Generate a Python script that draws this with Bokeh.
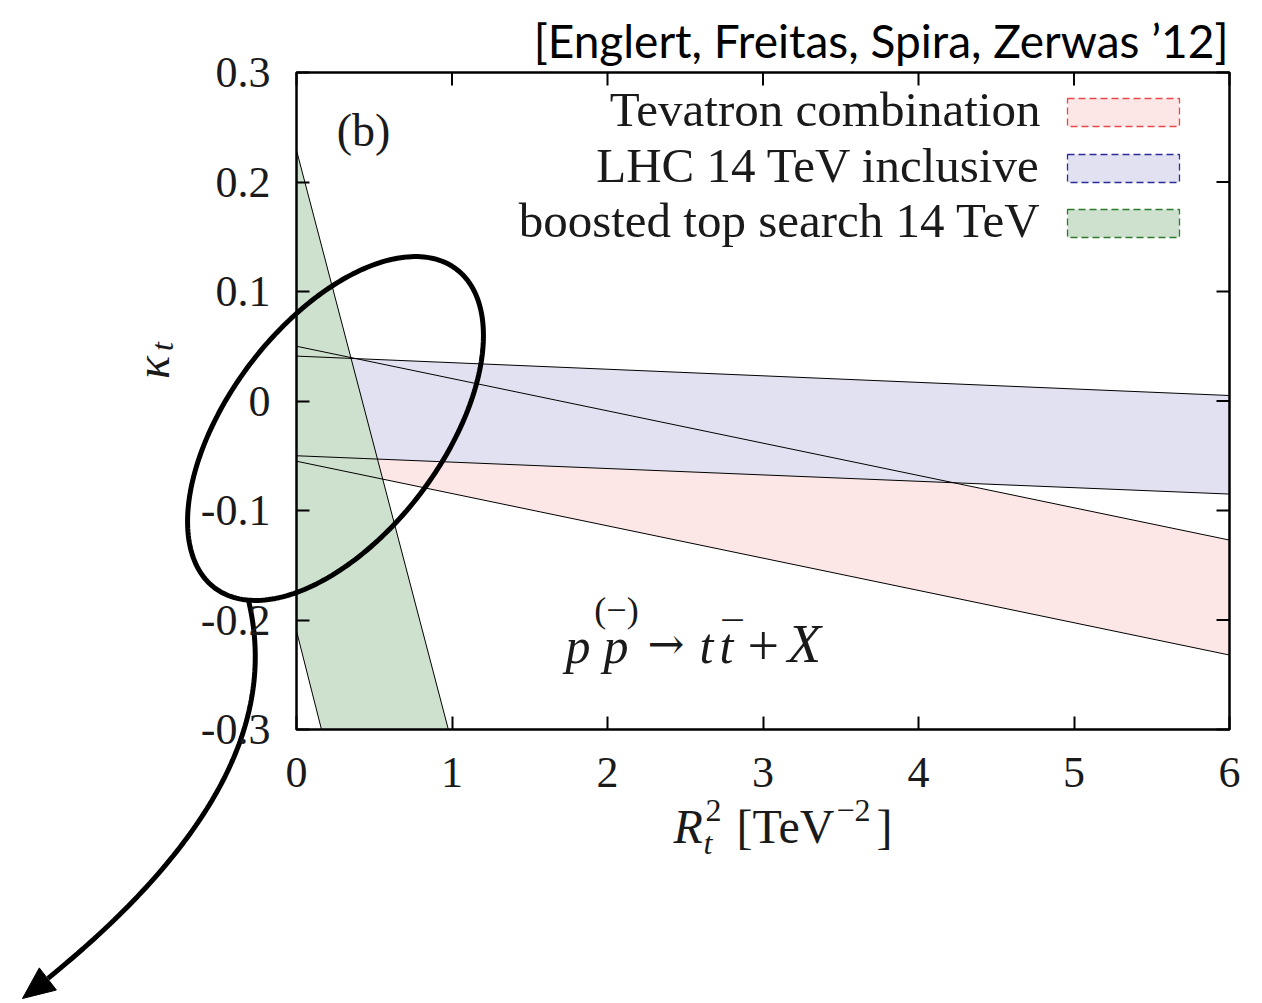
import numpy as np
from bokeh.plotting import figure
from bokeh.models import Range1d, LinearAxis, FixedTicker, Label, BoxAnnotation
from bokeh.embed import file_html
from bokeh.resources import INLINE

# ---- data: band edges in kappa_t at the two ends of the R_t^2 range ----
rt2_ends = [0.0, 6.0]
tevatron_hi = [0.050, -0.127]
tevatron_lo = [-0.055, -0.232]
lhc_hi = [0.041, 0.005]
lhc_lo = [-0.050, -0.085]
# boosted top search band (steep), edges at R_t^2 = 0 and 1.2
boost_rt2 = [0.0, 1.2]
boost_hi = [0.229, -0.421]
boost_lo = [-0.210, -0.882]

x_ticks = [0, 1, 2, 3, 4, 5, 6]
y_ticks = [-0.3, -0.2, -0.1, 0.0, 0.1, 0.2, 0.3]
y_tick_labels = ["-0.3", "-0.2", "-0.1", "0", "0.1", "0.2", "0.3"]

legend_names = ["Tevatron combination", "LHC 14 TeV inclusive", "boosted top search 14 TeV"]
fill_colors = ["#fce6e6", "#e1e1f1", "#cee1ce"]
edge_colors = ["#e8474a", "#2b2b9b", "#2c7b2c"]

# ---- canvas and plot-box geometry (pixels) ----
W, H = 1262, 1003
FL, FR, FT, FB = 296, 1229, 72, 729
XMIN, XMAX, YMIN, YMAX = 0.0, 6.0, -0.3, 0.3


def dx(px):
    return XMIN + (px - FL) * (XMAX - XMIN) / (FR - FL)


def dy(py):
    return YMAX - (py - FT) * (YMAX - YMIN) / (FB - FT)


# The frame spans the whole canvas so the highlight loop and its arrow,
# which run outside the plot box, are drawn too.
p = figure(width=W, height=H, x_range=Range1d(dx(0), dx(W)), y_range=Range1d(dy(H), dy(0)),
           output_backend="svg", toolbar_location=None,
           x_axis_location=None, y_axis_location=None,
           min_border_left=0, min_border_right=0, min_border_top=0, min_border_bottom=0)
p.grid.visible = False
p.outline_line_color = None
p.background_fill_color = "white"
p.border_fill_color = "white"

SERIF = "Liberation Serif"
TXT = "#1a1a1a"
TICK_LEN = 13


def style_axis(ax):
    ax.axis_line_color = None
    ax.major_tick_in = TICK_LEN
    ax.major_tick_out = 0
    ax.major_tick_line_width = 2
    ax.major_tick_line_color = "black"
    ax.minor_tick_line_color = None
    ax.major_label_text_font = SERIF
    ax.major_label_text_font_size = "44px"
    ax.major_label_text_color = TXT


xb = LinearAxis(ticker=FixedTicker(ticks=x_ticks), fixed_location=YMIN)
style_axis(xb)
xb.major_label_standoff = 28
p.add_layout(xb, "below")

yl = LinearAxis(ticker=FixedTicker(ticks=y_ticks), fixed_location=XMIN)
yl.major_label_overrides = {t: s for t, s in zip(y_ticks, y_tick_labels)}
style_axis(yl)
yl.major_label_standoff = 26
p.add_layout(yl, "left")

# ---- bands: Tevatron, then LHC over it, then boosted top search on top ----
p.varea(x=rt2_ends, y1=tevatron_lo, y2=tevatron_hi, fill_color=fill_colors[0])
p.varea(x=rt2_ends, y1=lhc_lo, y2=lhc_hi, fill_color=fill_colors[1])


def hit_floor(xs, ys):
    """R_t^2 at which a straight edge reaches the bottom of the plot box."""
    return xs[0] + (YMIN - ys[0]) * (xs[1] - xs[0]) / (ys[1] - ys[0])


r_hi = hit_floor(boost_rt2, boost_hi)
r_lo = hit_floor(boost_rt2, boost_lo)
p.patch(x=[boost_rt2[0], r_hi, r_lo, boost_rt2[0]],
        y=[boost_hi[0], YMIN, YMIN, boost_lo[0]],
        fill_color=fill_colors[2], line_color=None)

for xs, ys in [(rt2_ends, tevatron_hi), (rt2_ends, tevatron_lo),
               (rt2_ends, lhc_hi), (rt2_ends, lhc_lo)]:
    p.line(x=xs, y=ys, line_color="black", line_width=1)
p.line(x=[boost_rt2[0], r_hi], y=[boost_hi[0], YMIN], line_color="black", line_width=1)
p.line(x=[boost_rt2[0], r_lo], y=[boost_lo[0], YMIN], line_color="black", line_width=1)

# ---- plot box and mirrored ticks on top / right ----
p.quad(left=[XMIN], right=[XMAX], bottom=[YMIN], top=[YMAX],
       fill_alpha=0, line_color="black", line_width=2.5)
tdx = TICK_LEN * (XMAX - XMIN) / (FR - FL)
tdy = TICK_LEN * (YMAX - YMIN) / (FB - FT)
p.segment(x0=x_ticks, y0=[YMAX] * len(x_ticks), x1=x_ticks, y1=[YMAX - tdy] * len(x_ticks),
          line_color="black", line_width=2)
p.segment(x0=[XMAX] * len(y_ticks), y0=y_ticks, x1=[XMAX - tdx] * len(y_ticks), y1=y_ticks,
          line_color="black", line_width=2)


def label(px, py, text, size, align="left", font=SERIF, style="normal", angle=0.0, color=TXT):
    p.add_layout(Label(x=dx(px), y=dy(py), text=text, text_font=font,
                       text_font_size=f"{size}px", text_align=align,
                       text_baseline="middle", text_font_style=style,
                       text_color=color, angle=angle))


# ---- legend ----
legend_rows_y = [112, 168, 223]
for name, yc, fc, ec in zip(legend_names, legend_rows_y, fill_colors, edge_colors):
    label(1040, yc - 3, name, 49, align="right")
    p.add_layout(BoxAnnotation(left=dx(1067), right=dx(1179), top=dy(yc - 14), bottom=dy(yc + 14),
                               fill_color=fc, fill_alpha=1.0, line_color=ec, line_alpha=1.0,
                               line_width=1.3, line_dash="7 4"))

# ---- panel tag and process ----
label(363, 130, "(b)", 46, align="center")

label(565, 645, "p", 50, style="italic")
label(603, 645, "p", 50, style="italic")
label(616, 609, "(\u2212)", 36, align="center")
label(647, 643, "\u2192", 44, font="DejaVu Serif")
label(699, 645, "t", 50, style="italic")
label(719, 645, "t", 50, style="italic")
label(732, 636, "\u00af", 40, align="center")
label(747, 645, "+", 56)
label(787, 643, "X", 55, style="italic")

# ---- axis titles ----
label(673, 826, "R", 48, style="italic")
label(705, 810, "2", 32)
label(703, 842, "t", 32, style="italic")
label(736, 826, "[TeV", 48)
label(836, 810, "\u22122", 32)
label(876, 826, "]", 48)

label(152, 367, "\u03ba", 48, align="center", style="italic", angle=np.pi / 2)
label(161, 346, "t", 32, align="center", style="italic", angle=np.pi / 2)

# ---- citation ----
label(1228, 40, "[Englert, Freitas, Spira, Zerwas \u201912]", 46, align="right",
      font="Lato", color="black")

# ---- hand-drawn highlight loop with a tail ending in an arrow (pixel geometry) ----
loop_center = (335.0, 428.0)
loop_a, loop_b, loop_tilt = 200.0, 107.0, np.deg2rad(52.8)
t = np.linspace(0, 2 * np.pi, 240)
ux, uy = np.cos(loop_tilt), -np.sin(loop_tilt)
vx, vy = np.sin(loop_tilt), np.cos(loop_tilt)
lx = loop_center[0] + loop_a * np.cos(t) * ux + loop_b * np.sin(t) * vx
ly = loop_center[1] + loop_a * np.cos(t) * uy + loop_b * np.sin(t) * vy
p.line(x=[dx(v) for v in lx], y=[dy(v) for v in ly], line_color="black", line_width=5)

tail_ctrl = np.array([[248.0, 600.0], [272.0, 700.0], [240.0, 830.0], [22.0, 998.0]])
s = np.linspace(0, 1, 100)[:, None]
tail = ((1 - s) ** 3 * tail_ctrl[0] + 3 * (1 - s) ** 2 * s * tail_ctrl[1]
        + 3 * (1 - s) * s ** 2 * tail_ctrl[2] + s ** 3 * tail_ctrl[3])

# filled arrowhead at the end of the tail
head_len, head_half = 32.0, 14.0
tip = tail_ctrl[3]
direc = tail_ctrl[3] - tail_ctrl[2]
direc = direc / np.hypot(*direc)
perp = np.array([-direc[1], direc[0]])
base = tip - head_len * direc
head = np.array([tip, base + head_half * perp, base - head_half * perp])
keep = np.hypot(tail[:, 0] - tip[0], tail[:, 1] - tip[1]) > head_len * 0.8
tail = tail[keep]
p.line(x=[dx(v) for v in tail[:, 0]], y=[dy(v) for v in tail[:, 1]],
       line_color="black", line_width=5)
p.patch(x=[dx(v) for v in head[:, 0]], y=[dy(v) for v in head[:, 1]],
        fill_color="black", line_color="black", line_width=1)

open("out.html", "w").write(file_html(p, INLINE))
